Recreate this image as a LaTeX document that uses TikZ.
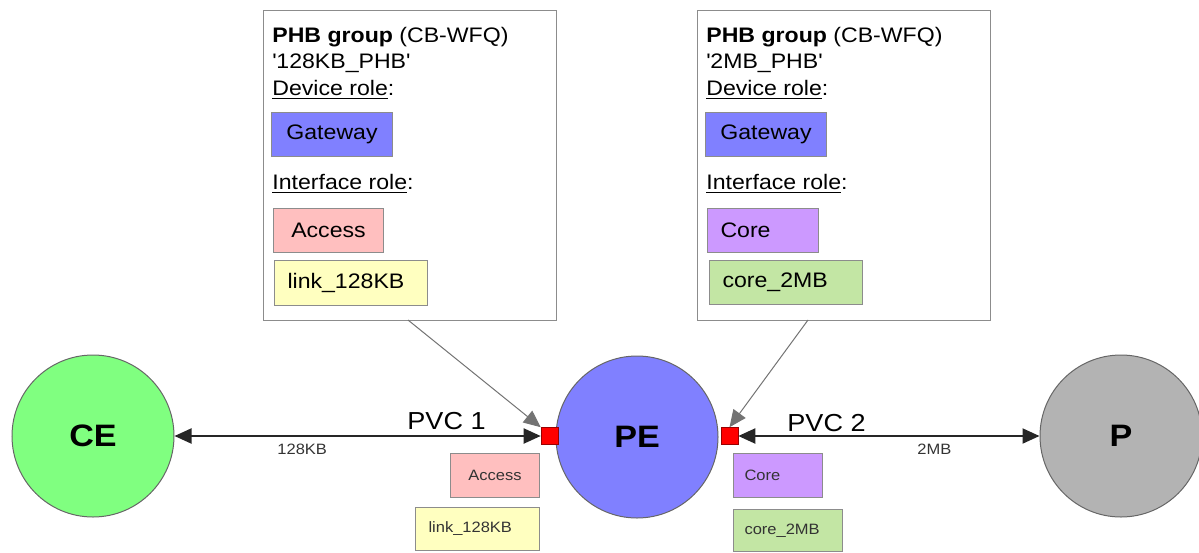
\documentclass[tikz,border=0pt]{standalone}
\usepackage{fontspec}
\setmainfont{Liberation Sans}[FakeStretch=1.1]
\usetikzlibrary{arrows.meta}
\definecolor{cegreen}{HTML}{80FF80}
\definecolor{peblue}{HTML}{8080FF}
\definecolor{pgray}{HTML}{B3B3B3}
\definecolor{accpink}{HTML}{FFBFBF}
\definecolor{linkyel}{HTML}{FFFFC0}
\definecolor{corepur}{HTML}{CC99FF}
\definecolor{coregrn}{HTML}{C3E6A4}
\definecolor{edgegray}{HTML}{8C8C8C}
\tikzset{
  panel/.style={draw=edgegray, fill=white, anchor=north west, inner sep=0pt, line width=0.6pt},
  txt/.style={anchor=base west, inner sep=0pt, font=\fontsize{10.5}{12}\selectfont},
  rolebox/.style={draw=edgegray, anchor=north west, inner sep=0pt, line width=0.5pt, font=\fontsize{10.5}{12}\selectfont},
  padl/.style={align=left, inner xsep=6.5pt, text width=#1},
  smallbox/.style={draw=edgegray, anchor=north west, inner sep=0pt, line width=0.5pt, font=\fontsize{7.5}{9}\selectfont, text=black!80},
  circ/.style={circle, draw=black!60, line width=0.5pt, minimum size=81pt, inner sep=0pt, font=\bfseries\fontsize{15.5}{18}\selectfont},
  sq/.style={draw=red!60!black, fill=red, minimum size=8.5pt, inner sep=0pt, line width=0.3pt},
  mainarrow/.style={{Triangle[length=8.5pt,width=7.5pt]}-{Triangle[length=8.5pt,width=7.5pt]}, line width=1pt, draw=black!85},
  thinarrow/.style={-{Triangle[length=8.5pt,width=7.5pt]}, line width=0.5pt, draw=black!55},
  pvc/.style={anchor=base west, inner sep=0pt, font=\fontsize{12.3}{14}\selectfont},
  rate/.style={anchor=base west, inner sep=0pt, font=\fontsize{7.5}{9}\selectfont, text=black!80}
}
\begin{document}
\begin{tikzpicture}[x=0.5pt,y=-0.5pt]
\useasboundingbox (0,0) rectangle (1199,552);

% left panel
\node[panel, minimum width=146.5pt, minimum height=155pt] (L) at (263,10) {};
\node[txt] (L1) at (272,42) {\textbf{PHB group} (CB-WFQ)};
\node[txt] (L2) at (272,68) {\textquotesingle128KB\_PHB\textquotesingle};
\node[txt] (L3) at (272,95) {\underline{Device role}:};
\node[rolebox, fill=peblue, minimum width=60.5pt, minimum height=22pt] (LGw) at (271,112) {Gateway};
\node[txt] (L4) at (272,189) {\underline{Interface role}:};
\node[rolebox, fill=accpink, minimum width=55pt, minimum height=22pt] (LAcc) at (273,208) {Access};
\node[rolebox, fill=linkyel, padl=63.5pt, minimum height=22.5pt] (LLink) at (274,260) {link\_128KB};

% right panel
\node[panel, minimum width=146.5pt, minimum height=155pt] (R) at (697,10) {};
\node[txt] (R1) at (706,42) {\textbf{PHB group} (CB-WFQ)};
\node[txt] (R2) at (706,68) {\textquotesingle2MB\_PHB\textquotesingle};
\node[txt] (R3) at (706,95) {\underline{Device role}:};
\node[rolebox, fill=peblue, minimum width=60.5pt, minimum height=22pt] (RGw) at (705,112) {Gateway};
\node[txt] (R4) at (706,189) {\underline{Interface role}:};
\node[rolebox, fill=corepur, padl=42.5pt, minimum height=22pt] (RCore) at (707,208) {Core};
\node[rolebox, fill=coregrn, padl=63.5pt, minimum height=22pt] (RLink) at (709,260) {core\_2MB};

% circles
\node[circ, fill=cegreen] (CE) at (93,436) {CE};
\node[circ, fill=peblue] (PE) at (637,437) {PE};
\node[circ, fill=pgray] (P) at (1121,436) {P};

% interface squares
\node[sq] (sqL) at (549.5,436) {};
\node[sq] (sqR) at (729.5,436) {};

% main links
\draw[mainarrow] (CE) -- (sqL);
\draw[mainarrow] (sqR) -- (P);

% pointers from panels
\coordinate (Lf) at (408,320);
\coordinate (Rf) at (808,320);
\draw[thinarrow] (Lf) -- (sqL.north west);
\draw[thinarrow] (Rf) -- (sqR.north);

% labels
\node[pvc] (pvc1) at (407,429) {PVC 1};
\node[pvc] (pvc2) at (787,431) {PVC 2};
\node[rate] (r1) at (277,454) {128KB};
\node[rate] (r2) at (917,454) {2MB};

% bottom role boxes
\node[smallbox, fill=accpink, minimum width=44.5pt, minimum height=22pt] (bAcc) at (450,453) {Access};
\node[smallbox, fill=linkyel, align=left, inner xsep=6.5pt, text width=49pt, minimum height=21.5pt] (bLink) at (415,507) {link\_128KB};
\node[smallbox, fill=corepur, align=left, inner xsep=5.5pt, text width=33.5pt, minimum height=22pt] (bCore) at (733,453) {Core};
\node[smallbox, fill=coregrn, align=left, inner xsep=5.5pt, text width=43.5pt, minimum height=21pt] (bLink2) at (733,509) {core\_2MB};
\end{tikzpicture}
\end{document}
